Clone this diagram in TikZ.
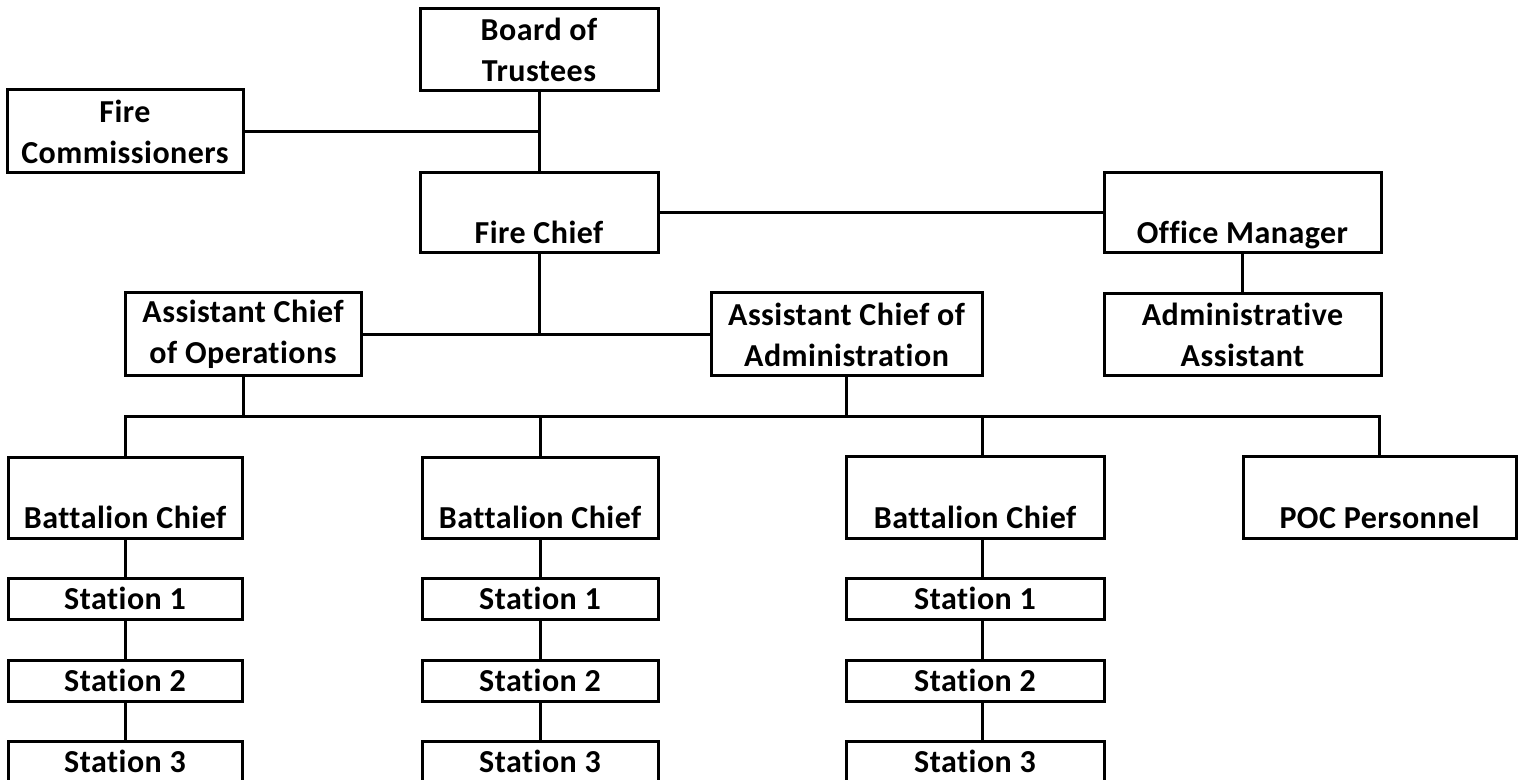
\documentclass[tikz,border=0pt]{standalone}
\usepackage{fontspec}
\setmainfont{Carlito}[Ligatures=NoCommon,LetterSpace=1.5]
\newcommand\bx[7]{\node[box,#6,minimum width={(#4-#2)*0.5pt},minimum height={(#5-#3)*0.5pt}] (#1) at ({(#2+#4)/2},{(#3+#5)/2}) {#7};}
\begin{document}
\begin{tikzpicture}[x=0.5pt,y=-0.5pt,
  box/.style={draw, line width=1.5pt, inner sep=0pt, align=center, font=\fontsize{16}{20.5}\selectfont\bfseries},
  bt/.style={label={[anchor=base, yshift=5.5pt, inner sep=0pt, font=\fontsize{16}{18}\selectfont\bfseries]south:#1}},
  conn/.style={line width=1.5pt}]
\useasboundingbox (0,0) rectangle (1525,780);
\clip (0,0) rectangle (1525,780);
\bx{board}{420}{9}{658}{91}{}{Board of\\Trustees}
\bx{comm}{7}{90}{243}{173}{}{Fire\\Commissioners}
\bx{chief}{420}{173}{658}{253}{bt=Fire Chief}{}
\bx{office}{1104}{173}{1381}{253}{bt=Office Manager}{}
\bx{opsac}{125}{293}{361}{376}{}{Assistant Chief\\of Operations}
\bx{admac}{711}{293}{982}{376}{}{Assistant Chief of\\Administration}
\bx{adminasst}{1104}{294}{1381}{376}{}{Administrative\\Assistant}
\bx{bat1}{8}{457}{242}{538}{bt=Battalion Chief}{}
\bx{bat2}{422}{457}{658}{538}{bt=Battalion Chief}{}
\bx{bat3}{846}{456}{1104}{538}{bt=Battalion Chief}{}
\bx{poc}{1243}{456}{1516}{538}{bt=POC Personnel}{}
\bx{s11}{8}{578}{242}{619}{}{Station 1}
\bx{s12}{8}{660}{242}{701}{}{Station 2}
\bx{s13}{8}{741}{242}{782}{}{Station 3}
\bx{s21}{422}{578}{658}{619}{}{Station 1}
\bx{s22}{422}{660}{658}{701}{}{Station 2}
\bx{s23}{422}{741}{658}{782}{}{Station 3}
\bx{s31}{846}{578}{1104}{619}{}{Station 1}
\bx{s32}{846}{660}{1104}{701}{}{Station 2}
\bx{s33}{846}{741}{1104}{782}{}{Station 3}
\coordinate (bus) at (0,416);
\coordinate (c3) at (982,0);
\draw[conn] (board.south) -- (chief.north);
\draw[conn] (comm.east) -- (comm.east -| board.south);
\draw[conn] (chief.east) -- (office.west);
\draw[conn] (office.south) -- (adminasst.north);
\draw[conn] (chief.south) -- (chief.south |- opsac.east);
\draw[conn] (opsac.east) -- (admac.west);
\draw[conn] (opsac.south) -- (opsac.south |- bus);
\draw[conn] (admac.south) -- (admac.south |- bus);
\draw[conn] (bat1.north) -- (bat1.north |- bus) -- (poc.north |- bus) -- (poc.north);
\draw[conn] (bat2.north) -- (bat2.north |- bus);
\draw[conn] (bat3.north -| c3) -- (c3 |- bus);
\draw[conn] (bat1.south) -- (s11.north);
\draw[conn] (s11.south) -- (s12.north);
\draw[conn] (s12.south) -- (s13.north);
\draw[conn] (bat2.south) -- (s21.north);
\draw[conn] (s21.south) -- (s22.north);
\draw[conn] (s22.south) -- (s23.north);
\draw[conn] (bat3.south -| c3) -- (s31.north -| c3);
\draw[conn] (s31.south -| c3) -- (s32.north -| c3);
\draw[conn] (s32.south -| c3) -- (s33.north -| c3);
\end{tikzpicture}
\end{document}
